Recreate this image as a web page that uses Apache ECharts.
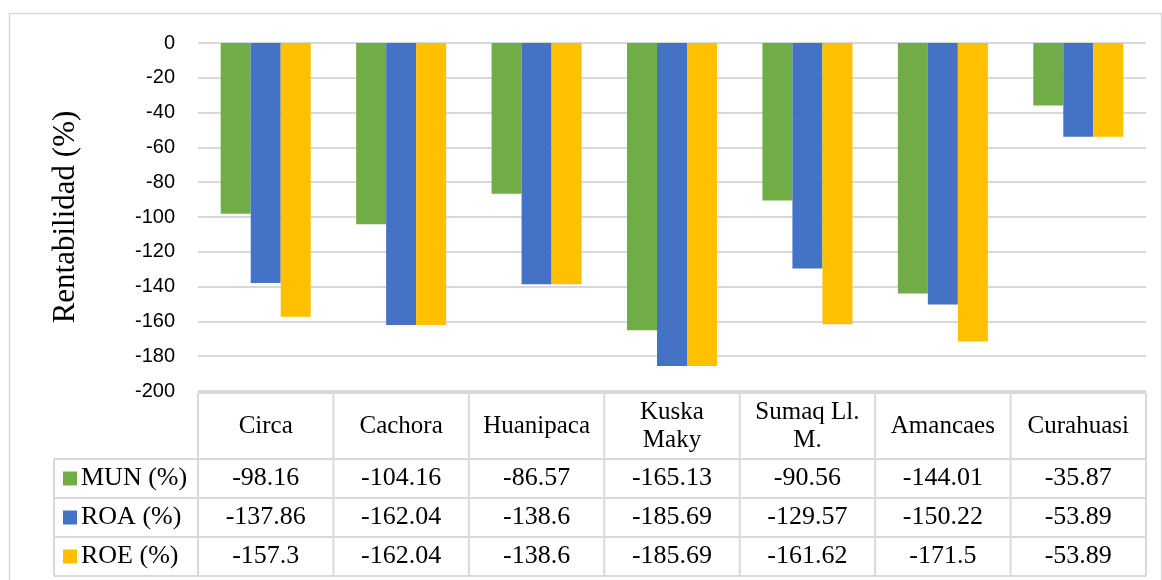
<!DOCTYPE html>
<html>
<head>
<meta charset="utf-8">
<script src="https://cdn.jsdelivr.net/npm/echarts@6/dist/echarts.min.js"></script>
<style>html,body{margin:0;padding:0;background:#fff}#c{width:1162px;height:580px}</style>
</head>
<body>
<div id="c"></div>
<script>
const categories = ['Circa', 'Cachora', 'Huanipaca', 'Kuska\nMaky', 'Sumaq Ll.\nM.', 'Amancaes', 'Curahuasi'];
const seriesNames = ['MUN (%)', 'ROA (%)', 'ROE (%)'];
const mun = [-98.16, -104.16, -86.57, -165.13, -90.56, -144.01, -35.87];
const roa = [-137.86, -162.04, -138.6, -185.69, -129.57, -150.22, -53.89];
const roe = [-157.3, -162.04, -138.6, -185.69, -161.62, -171.5, -53.89];
const yTicks = { min: -200, max: 0, interval: 20 };
const colors = ['#70AD47', '#4472C4', '#FFC000'];

const chart = echarts.init(document.getElementById('c'));
const L = 198, R = 1146, T = 43, B = 391;
const rows = [mun, roa, roe];
const lineColor = '#d9d9d9';
const serif = 'Liberation Serif, Times New Roman, serif';
const tableTop = 393, headBot = 459, rowH = 39;
const colW = (R - L) / categories.length;

const graphic = [];
// outer border
graphic.push({ type: 'rect', shape: { x: 9.5, y: 13.5, width: 1152, height: 600 }, style: { fill: 'none', stroke: lineColor, lineWidth: 1.5 }, silent: true });
// horizontal lines
graphic.push({ type: 'line', shape: { x1: L, y1: tableTop, x2: R, y2: tableTop }, style: { stroke: lineColor, lineWidth: 2 } });
for (let r = 0; r <= rows.length; r++) {
  const y = headBot + r * rowH;
  graphic.push({ type: 'line', shape: { x1: 54, y1: y, x2: R, y2: y }, style: { stroke: lineColor, lineWidth: 2 } });
}
// vertical lines
graphic.push({ type: 'line', shape: { x1: 54, y1: headBot, x2: 54, y2: headBot + rows.length * rowH }, style: { stroke: lineColor, lineWidth: 2 } });
for (let i = 0; i <= categories.length; i++) {
  const x = L + i * colW;
  graphic.push({ type: 'line', shape: { x1: x, y1: tableTop, x2: x, y2: headBot + rows.length * rowH }, style: { stroke: lineColor, lineWidth: 2 } });
}
// legend column + values
rows.forEach((arr, r) => {
  const cy = headBot + r * rowH + rowH / 2;
  graphic.push({ type: 'rect', shape: { x: 63, y: cy - 7, width: 14, height: 14 }, style: { fill: colors[r] } });
  graphic.push({ type: 'text', x: 81, y: cy, style: { text: seriesNames[r], font: '26px ' + serif, fill: '#000', textVerticalAlign: 'middle', textAlign: 'left' } });
  arr.forEach((v, i) => {
    graphic.push({ type: 'text', x: L + (i + 0.5) * colW, y: cy, style: { text: String(v), font: '26px ' + serif, fill: '#000', textVerticalAlign: 'middle', textAlign: 'center' } });
  });
});

chart.setOption({
  animation: false,
  backgroundColor: '#fff',
  grid: { left: L, right: 1162 - R, top: T, bottom: 580 - B, containLabel: false },
  xAxis: {
    type: 'category',
    data: categories,
    axisLine: { show: false },
    axisTick: { show: false },
    axisLabel: { interval: 0, margin: 35, verticalAlign: 'middle', lineHeight: 28, fontFamily: serif, fontSize: 25, color: '#000' }
  },
  yAxis: {
    type: 'value',
    min: yTicks.min, max: yTicks.max, interval: yTicks.interval,
    name: 'Rentabilidad (%)',
    nameLocation: 'middle',
    nameGap: 117,
    nameRotate: 90,
    nameTextStyle: { fontFamily: serif, fontSize: 31, color: '#000' },
    axisLine: { show: false },
    axisTick: { show: false },
    axisLabel: { margin: 23, fontFamily: 'Liberation Sans, Arial, sans-serif', fontSize: 20, color: '#000' },
    splitLine: { lineStyle: { color: lineColor, width: 2 } }
  },
  series: rows.map((arr, r) => ({
    name: seriesNames[r],
    type: 'bar',
    data: arr,
    barWidth: 30,
    barGap: '0%',
    itemStyle: { color: colors[r] }
  })),
  graphic: graphic
});
</script>
</body>
</html>
